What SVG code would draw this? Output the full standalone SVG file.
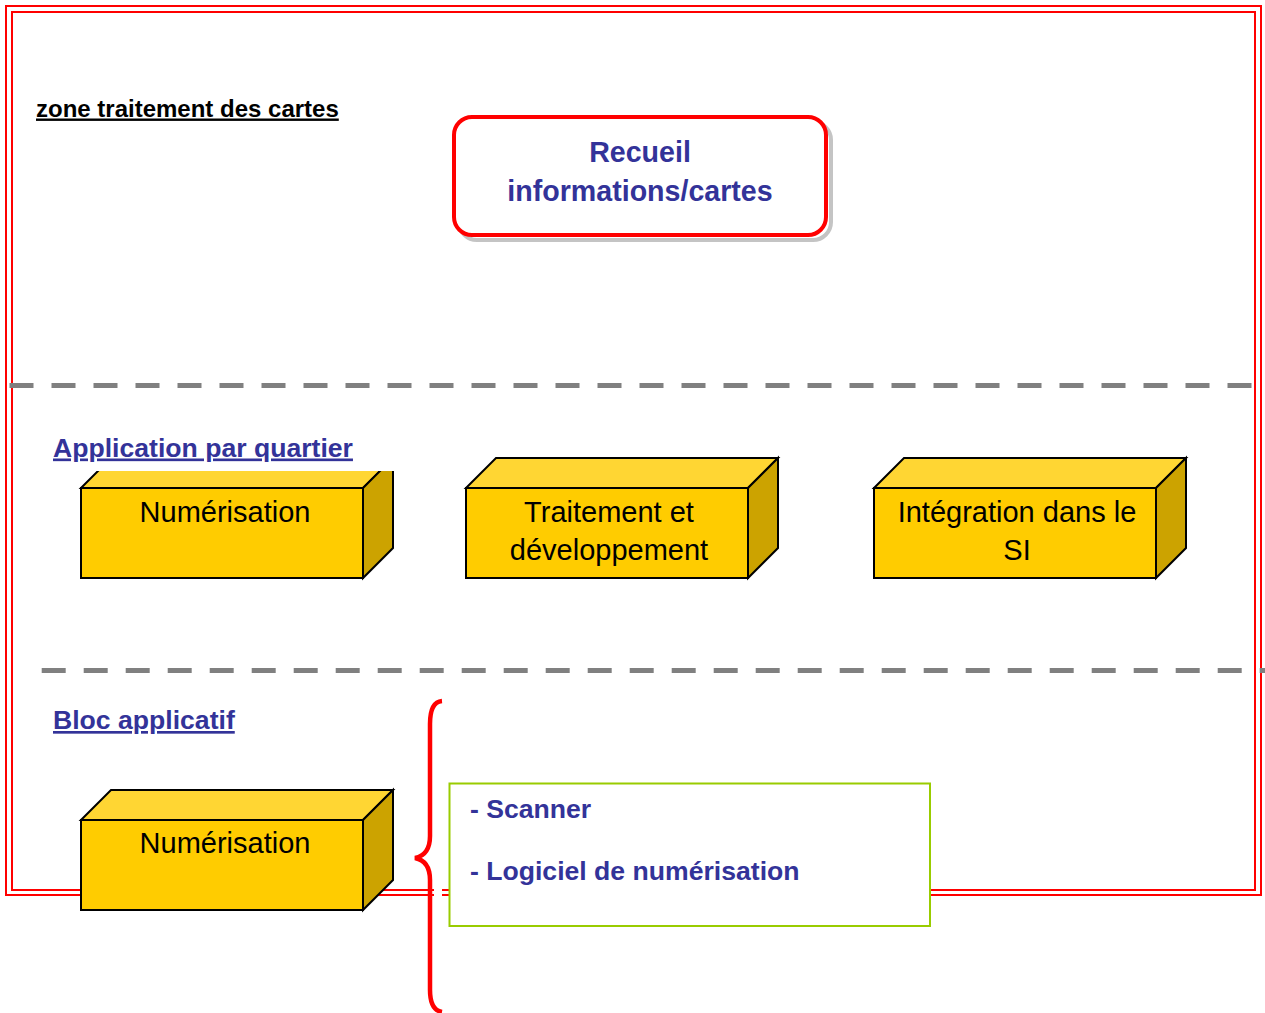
<svg xmlns="http://www.w3.org/2000/svg" width="1265" height="1013" viewBox="0 0 1265 1013">
<style>
.border{fill:none;stroke:#FF0000;stroke-width:2}
.dash{stroke:#808080;stroke-width:5;stroke-dasharray:24 18;fill:none}
.front{fill:#FFCC00;stroke:#000;stroke-width:2}
.top{fill:#FFD633;stroke:#000;stroke-width:2}
.side{fill:#CCA300;stroke:#000;stroke-width:2}
.boxt{font-family:"Liberation Sans",Arial,sans-serif;font-size:29px;fill:#000;text-anchor:middle}
.lbl{font-family:"Liberation Sans",Arial,sans-serif;font-weight:bold;font-size:26.6px;fill:#333399;text-decoration:underline}
.blue{font-family:"Liberation Sans",Arial,sans-serif;font-weight:bold;fill:#333399}
</style>
<defs>
<g id="box3d">
<polygon class="top" points="0,0 30,-30 312,-30 282,0"/>
<polygon class="side" points="282,0 312,-30 312,60 282,90"/>
<rect class="front" x="0" y="0" width="282" height="90"/>
</g>
<clipPath id="clip1"><rect x="0" y="471" width="430" height="120"/></clipPath>
</defs>
<rect width="1265" height="1013" fill="#FFFFFF"/>
<g id="frame">
<rect class="border" x="6" y="6" width="1255" height="889"/>
<rect class="border" x="12" y="12" width="1243" height="878"/>
</g>
<g id="separators">
<line class="dash" x1="9.5" y1="385.5" x2="1252" y2="385.5"/>
<line class="dash" x1="41.7" y1="670.5" x2="1265" y2="670.5"/>
</g>
<text x="36" y="116.5" font-family="Liberation Sans, Arial, sans-serif" font-weight="bold" font-size="24" fill="#000" text-decoration="underline">zone traitement des cartes</text>
<text class="lbl" x="53" y="456.5">Application par quartier</text>
<text class="lbl" x="53" y="729">Bloc applicatif</text>
<g id="recueil">
<rect x="459" y="122" width="372" height="118" rx="18" fill="none" stroke="#C4C4C4" stroke-width="4"/>
<rect x="454" y="117" width="372" height="118" rx="18" fill="#FFFFFF" stroke="#FF0000" stroke-width="4"/>
<text class="blue" font-size="28.6" x="640" y="161.5" text-anchor="middle">Recueil</text>
<text class="blue" font-size="28.6" x="640" y="201" text-anchor="middle">informations/cartes</text>
</g>
<g id="numerisation1" clip-path="url(#clip1)">
<use href="#box3d" transform="translate(81,488)"/>
<text class="boxt" x="225" y="522">Numérisation</text>
</g>
<g id="traitement">
<use href="#box3d" transform="translate(466,488)"/>
<text class="boxt" x="609" y="522">Traitement et</text>
<text class="boxt" x="609" y="560">développement</text>
</g>
<g id="integration">
<use href="#box3d" transform="translate(874,488)"/>
<text class="boxt" x="1017" y="522">Intégration dans le</text>
<text class="boxt" x="1017" y="560">SI</text>
</g>
<g id="numerisation2">
<use href="#box3d" transform="translate(81,820)"/>
<text class="boxt" x="225" y="853">Numérisation</text>
</g>
<g id="connectors">
<rect x="434" y="886" width="8" height="11" fill="#FFFFFF"/>
<path d="M442,701 Q430,702 430,724 L430,836 Q430,855 415,858 Q430,861 430,880 L430,990 Q430,1010 442,1012" fill="none" stroke="#FF0000" stroke-width="4.5"/>
</g>
<g id="details">
<rect x="449.5" y="783.5" width="480.5" height="142.5" fill="#FFFFFF" stroke="#99CC00" stroke-width="2"/>
<text class="blue" font-size="26.6" x="470" y="818">- Scanner</text>
<text class="blue" font-size="26.6" x="470" y="880">- Logiciel de numérisation</text>
</g>
</svg>
